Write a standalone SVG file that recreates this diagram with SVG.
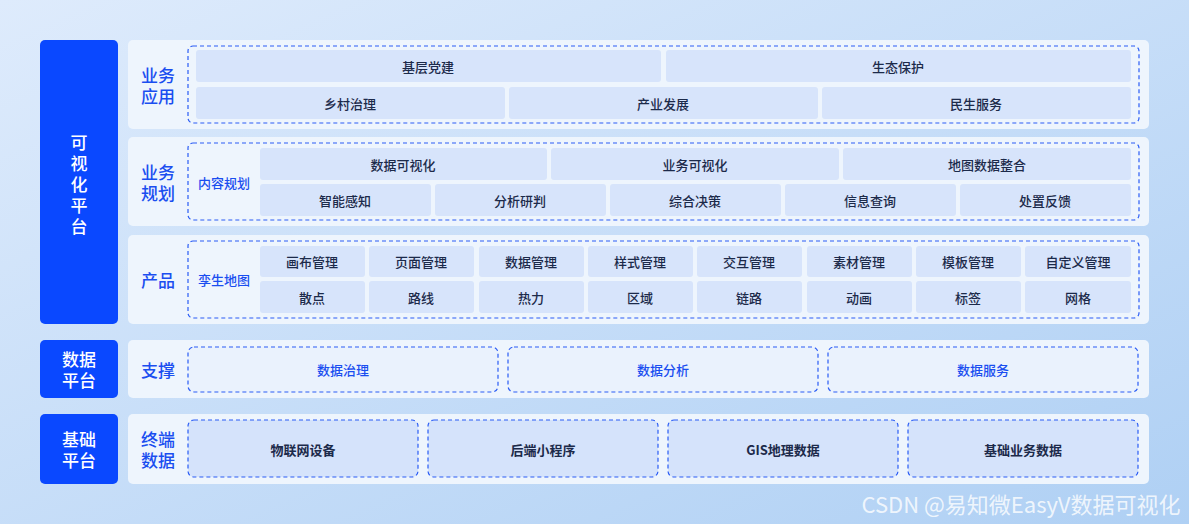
<svg xmlns="http://www.w3.org/2000/svg" width="1189" height="524" viewBox="0 0 1189 524">
<defs>
<linearGradient id="bg" x1="0" y1="0" x2="1" y2="1"><stop offset="0" stop-color="#deebfc"/><stop offset="1" stop-color="#afd0f4"/></linearGradient>
<style>
text{font-family:"Noto Sans CJK SC","Noto Sans",sans-serif;text-anchor:middle;dominant-baseline:central}
.blk{fill:#0a48ff}
.bt{fill:#fff;font-size:17px;font-weight:500}
.pan{fill:#eef5fd}
.lab{fill:#1a4ef0;font-size:17px;font-weight:500}
.sub{fill:#1a4ef0;font-size:13px;font-weight:500}
.dash{fill:none;stroke:#2a5cf5;stroke-width:1.2;stroke-dasharray:4 3}
.cell{fill:#d7e4fb}
.ct{fill:#1c2a4a;font-size:13px;font-weight:500}
.sup{fill:#eaf2fd;stroke:#2a5cf5;stroke-width:1.2;stroke-dasharray:4 3}
.st{fill:#1a4ef0;font-size:13px;font-weight:500}
.term{fill:#d5e3fb;stroke:#2a5cf5;stroke-width:1.2;stroke-dasharray:4 3}
.tt{fill:#1c2a4a;font-size:13px;font-weight:bold}
</style>
</defs>
<rect width="1189" height="524" fill="url(#bg)"/>
<g id="vis-platform"><rect class="blk" x="40" y="40" width="78" height="284" rx="5"/>
<text class="bt" x="79" y="141">可</text><text class="bt" x="79" y="162">视</text><text class="bt" x="79" y="183">化</text><text class="bt" x="79" y="204">平</text><text class="bt" x="79" y="225">台</text></g>
<g id="data-platform"><rect class="blk" x="40" y="340" width="78" height="58" rx="5"/><text class="bt" x="79" y="358">数据</text><text class="bt" x="79" y="379">平台</text></g>
<g id="base-platform"><rect class="blk" x="40" y="414" width="78" height="70" rx="5"/><text class="bt" x="79" y="438">基础</text><text class="bt" x="79" y="459">平台</text></g>

<g id="row-app"><rect class="pan" x="128" y="40" width="1021" height="89" rx="5"/>
<text class="lab" x="158" y="74">业务</text><text class="lab" x="158" y="95">应用</text>
<rect class="dash" x="188" y="46" width="951" height="77" rx="5"/>
<rect class="cell" x="196" y="50" width="465" height="32" rx="3"/><text class="ct" x="428" y="66">基层党建</text>
<rect class="cell" x="666" y="50" width="465" height="32" rx="3"/><text class="ct" x="898" y="66">生态保护</text>
<rect class="cell" x="196" y="87" width="309" height="32" rx="3"/><text class="ct" x="350" y="103">乡村治理</text>
<rect class="cell" x="509" y="87" width="309" height="32" rx="3"/><text class="ct" x="663" y="103">产业发展</text>
<rect class="cell" x="822" y="87" width="309" height="32" rx="3"/><text class="ct" x="976" y="103">民生服务</text></g>

<g id="row-plan"><rect class="pan" x="128" y="137" width="1021" height="89" rx="5"/>
<text class="lab" x="158" y="171">业务</text><text class="lab" x="158" y="192">规划</text>
<rect class="dash" x="188" y="143" width="951" height="77" rx="5"/>
<text class="sub" x="224" y="182">内容规划</text>
<rect class="cell" x="260" y="148" width="287" height="32" rx="3"/><text class="ct" x="403" y="164">数据可视化</text>
<rect class="cell" x="551" y="148" width="288" height="32" rx="3"/><text class="ct" x="695" y="164">业务可视化</text>
<rect class="cell" x="843" y="148" width="288" height="32" rx="3"/><text class="ct" x="987" y="164">地图数据整合</text>
<rect class="cell" x="260" y="184" width="171" height="32" rx="3"/><text class="ct" x="345" y="200">智能感知</text>
<rect class="cell" x="435" y="184" width="171" height="32" rx="3"/><text class="ct" x="520" y="200">分析研判</text>
<rect class="cell" x="610" y="184" width="171" height="32" rx="3"/><text class="ct" x="695" y="200">综合决策</text>
<rect class="cell" x="785" y="184" width="171" height="32" rx="3"/><text class="ct" x="870" y="200">信息查询</text>
<rect class="cell" x="960" y="184" width="171" height="32" rx="3"/><text class="ct" x="1045" y="200">处置反馈</text></g>

<g id="row-product"><rect class="pan" x="128" y="235" width="1021" height="89" rx="5"/>
<text class="lab" x="158" y="279">产品</text>
<rect class="dash" x="188" y="241" width="951" height="77" rx="5"/>
<text class="sub" x="224" y="279">孪生地图</text>
<rect class="cell" x="260" y="246" width="105" height="31" rx="3"/><text class="ct" x="312" y="261">画布管理</text>
<rect class="cell" x="369" y="246" width="105" height="31" rx="3"/><text class="ct" x="421" y="261">页面管理</text>
<rect class="cell" x="479" y="246" width="105" height="31" rx="3"/><text class="ct" x="531" y="261">数据管理</text>
<rect class="cell" x="588" y="246" width="105" height="31" rx="3"/><text class="ct" x="640" y="261">样式管理</text>
<rect class="cell" x="697" y="246" width="105" height="31" rx="3"/><text class="ct" x="749" y="261">交互管理</text>
<rect class="cell" x="807" y="246" width="105" height="31" rx="3"/><text class="ct" x="859" y="261">素材管理</text>
<rect class="cell" x="916" y="246" width="105" height="31" rx="3"/><text class="ct" x="968" y="261">模板管理</text>
<rect class="cell" x="1025" y="246" width="106" height="31" rx="3"/><text class="ct" x="1078" y="261">自定义管理</text>
<rect class="cell" x="260" y="281" width="105" height="32" rx="3"/><text class="ct" x="312" y="297">散点</text>
<rect class="cell" x="369" y="281" width="105" height="32" rx="3"/><text class="ct" x="421" y="297">路线</text>
<rect class="cell" x="479" y="281" width="105" height="32" rx="3"/><text class="ct" x="531" y="297">热力</text>
<rect class="cell" x="588" y="281" width="105" height="32" rx="3"/><text class="ct" x="640" y="297">区域</text>
<rect class="cell" x="697" y="281" width="105" height="32" rx="3"/><text class="ct" x="749" y="297">链路</text>
<rect class="cell" x="807" y="281" width="105" height="32" rx="3"/><text class="ct" x="859" y="297">动画</text>
<rect class="cell" x="916" y="281" width="105" height="32" rx="3"/><text class="ct" x="968" y="297">标签</text>
<rect class="cell" x="1025" y="281" width="106" height="32" rx="3"/><text class="ct" x="1078" y="297">网格</text></g>

<g id="row-support"><rect class="pan" x="128" y="340" width="1021" height="58" rx="5"/>
<text class="lab" x="158" y="369">支撑</text>
<rect class="sup" x="188" y="347" width="310" height="45" rx="6"/><text class="st" x="343" y="369">数据治理</text>
<rect class="sup" x="508" y="347" width="310" height="45" rx="6"/><text class="st" x="663" y="369">数据分析</text>
<rect class="sup" x="828" y="347" width="310" height="45" rx="6"/><text class="st" x="983" y="369">数据服务</text></g>

<g id="row-terminal"><rect class="pan" x="128" y="414" width="1021" height="70" rx="5"/>
<text class="lab" x="158" y="438">终端</text><text class="lab" x="158" y="459">数据</text>
<rect class="term" x="188" y="420" width="230" height="57" rx="6"/><text class="tt" x="303" y="449">物联网设备</text>
<rect class="term" x="428" y="420" width="230" height="57" rx="6"/><text class="tt" x="543" y="449">后端小程序</text>
<rect class="term" x="668" y="420" width="230" height="57" rx="6"/><text class="tt" x="783" y="449">GIS地理数据</text>
<rect class="term" x="908" y="420" width="230" height="57" rx="6"/><text class="tt" x="1023" y="449">基础业务数据</text></g>
<g id="connectors"/>
<text x="1021" y="503" style="font-size:22px;fill:#ffffff;fill-opacity:0.8">CSDN @易知微EasyV数据可视化</text>
</svg>
